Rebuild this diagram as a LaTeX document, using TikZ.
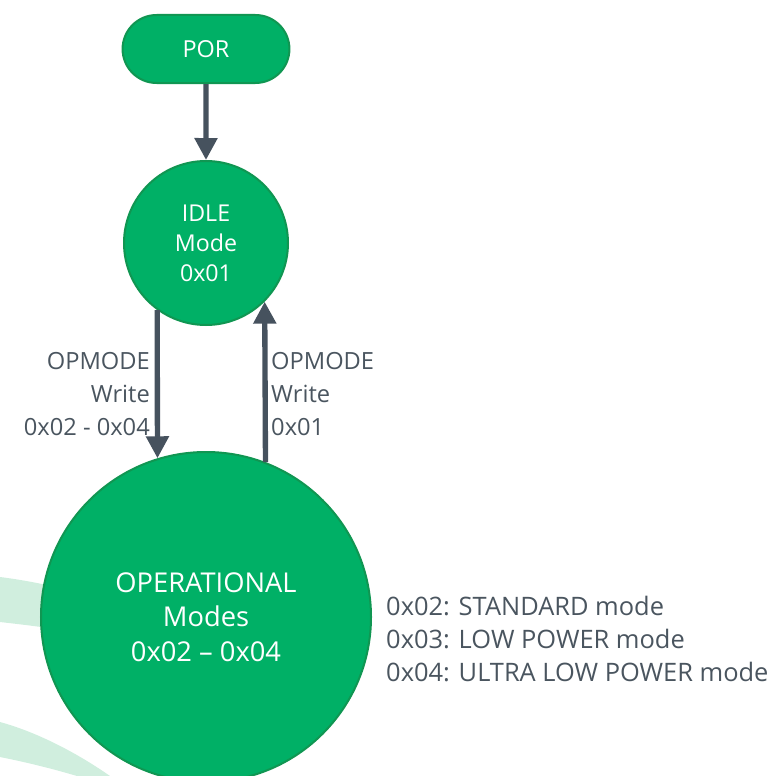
\documentclass[tikz,border=0pt]{standalone}
\usepackage{fontspec}
\setmainfont{Open Sans}
\usepackage{xcolor}
\definecolor{modegreen}{RGB}{0,176,102}
\definecolor{modeedge}{RGB}{16,150,82}
\definecolor{arrowgray}{RGB}{70,82,94}
\definecolor{labelgray}{RGB}{74,85,95}
\definecolor{swoosh}{RGB}{208,238,222}
\usetikzlibrary{arrows.meta,positioning,shapes.geometric,shapes.misc,calc}
\tikzset{
  state/.style={circle,fill=modegreen,draw=modeedge,line width=0.6mm,%
    text=white,align=center,inner sep=0pt},
  start/.style={rounded rectangle,fill=modegreen,draw=modeedge,line width=0.6mm,%
    text=white,minimum width=52.4mm,minimum height=20.4mm,font=\fontsize{20}{23}\selectfont},
  flow/.style={-{Triangle[length=6.6mm,width=6.6mm]},line width=1.6mm,draw=arrowgray},
  note/.style={text=labelgray,inner sep=0pt,font=\fontsize{20.2}{28.5}\selectfont},
}
\begin{document}
\begin{tikzpicture}[x=0.3mm,y=-0.3mm]
\useasboundingbox (0,0) rectangle (771,776);
% background swooshes
\fill[swoosh] (0,577) .. controls (40,582) and (80,592) .. (120,605)
  -- (110,640) .. controls (70,630) and (35,626) .. (0,622) -- cycle;
\fill[swoosh] (0,722) .. controls (40,733) and (80,755) .. (110,776)
  -- (77,776) .. controls (50,768) and (25,762) .. (0,757) -- cycle;
\node[start] (por) at (206,49) {POR};
\node[state,minimum size=49.2mm,font=\fontsize{19.8}{25.5}\selectfont] (idle) at (206,243) {IDLE\\Mode\\0x01};
\node[state,minimum size=99mm,font=\fontsize{23.3}{29.5}\selectfont] (op) at (206,617) {OPERATIONAL\\Modes\\0x02 -- 0x04};
\draw[flow] (por) -- (idle);
\draw[flow] (idle.-126.7) -- (op.107.3);
\draw[flow] (op.69.4) -- (idle.-45);
\node[note,align=right,anchor=east] (wrdown) at (150,394) {OPMODE\\Write\\0x02 - 0x04};
\node[note,align=left,anchor=west] (wrup) at (271,394) {OPMODE\\Write\\0x01};
\node[note,align=left,anchor=west,font=\fontsize{21.7}{28}\selectfont] (modes) at (386,639) {0x02: STANDARD mode\\0x03: LOW POWER mode\\0x04: ULTRA LOW POWER mode};
\end{tikzpicture}
\end{document}
